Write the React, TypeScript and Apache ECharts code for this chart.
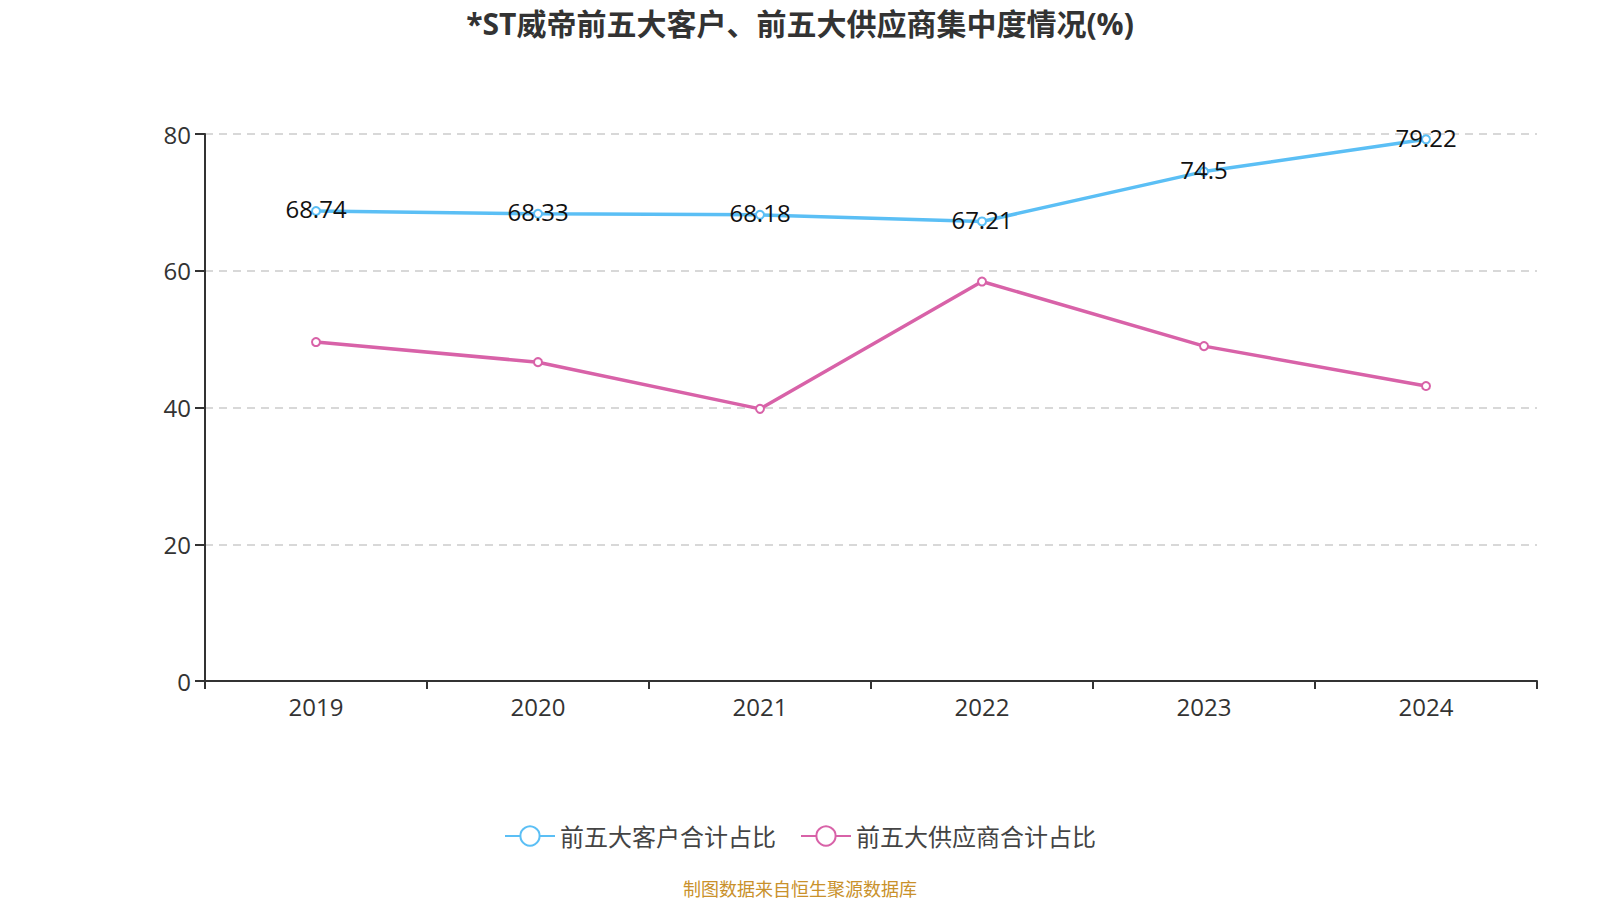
import React, { useEffect, useRef } from "react";
import * as echarts from "echarts";

const years = ["2019", "2020", "2021", "2022", "2023", "2024"];
const customerShare = [68.74, 68.33, 68.18, 67.21, 74.5, 79.22];
const supplierShare = [49.57, 46.63, 39.8, 58.42, 48.98, 43.14];
const seriesNames = ["前五大客户合计占比", "前五大供应商合计占比"];
const titleText = "*ST威帝前五大客户、前五大供应商集中度情况(%)";
const sourceText = "制图数据来自恒生聚源数据库";

const FONT = "'Open Sans', 'Noto Sans CJK SC', sans-serif";

export default function App() {
  const ref = useRef<HTMLDivElement>(null);
  useEffect(() => {
    document.body.style.margin = "0";
    if (!ref.current) return;
    const chart = echarts.init(ref.current, null, { renderer: "svg" });
    chart.setOption({
      animation: false,
      backgroundColor: "#ffffff",
      textStyle: { fontFamily: FONT },
      title: {
        text: titleText,
        left: "center",
        top: 3,
        textStyle: { fontSize: 30, fontWeight: "bold", color: "#333", fontFamily: FONT },
      },
      legend: {
        bottom: 47,
        left: "center",
        itemWidth: 50,
        itemHeight: 24,
        itemGap: 24,
        textStyle: { fontSize: 24, color: "#444", fontFamily: FONT },
        data: seriesNames,
      },
      graphic: [
        {
          type: "text",
          left: "center",
          top: 880,
          style: { text: sourceText, fontSize: 18, fill: "#C9912B", fontFamily: FONT },
        },
      ],
      grid: { left: 205, right: 63, top: 134, bottom: 219, containLabel: false },
      xAxis: {
        type: "category",
        data: years,
        boundaryGap: true,
        axisLine: { lineStyle: { color: "#333", width: 2 } },
        axisTick: { show: true, length: 8, lineStyle: { color: "#333", width: 2 } },
        axisLabel: { fontSize: 24, color: "#333", margin: 13, fontFamily: FONT },
      },
      yAxis: {
        type: "value",
        min: 0,
        max: 80,
        interval: 20,
        axisLine: { show: true, lineStyle: { color: "#333", width: 2 } },
        axisTick: { show: true, length: 10, lineStyle: { color: "#333", width: 2 } },
        axisLabel: { fontSize: 24, color: "#333", margin: 14, fontFamily: FONT },
        splitLine: { show: true, lineStyle: { color: "#ccc", type: [8, 6], width: 1.5 } },
      },
      series: [
        {
          name: seriesNames[0],
          type: "line",
          data: customerShare,
          symbol: "emptyCircle",
          symbolSize: 8,
          itemStyle: { color: "#5BBFF5" },
          lineStyle: { color: "#5BBFF5", width: 3.5 },
          label: {
            show: true,
            position: "inside",
            offset: [0, -2],
            fontSize: 24,
            color: "#111",
            fontFamily: FONT,
          },
        },
        {
          name: seriesNames[1],
          type: "line",
          data: supplierShare,
          symbol: "emptyCircle",
          symbolSize: 8,
          itemStyle: { color: "#D862A8" },
          lineStyle: { color: "#D862A8", width: 3.5 },
          label: { show: false },
        },
      ],
    });
    return () => chart.dispose();
  }, []);
  return <div ref={ref} style={{ width: 1600, height: 900 }} />;
}
